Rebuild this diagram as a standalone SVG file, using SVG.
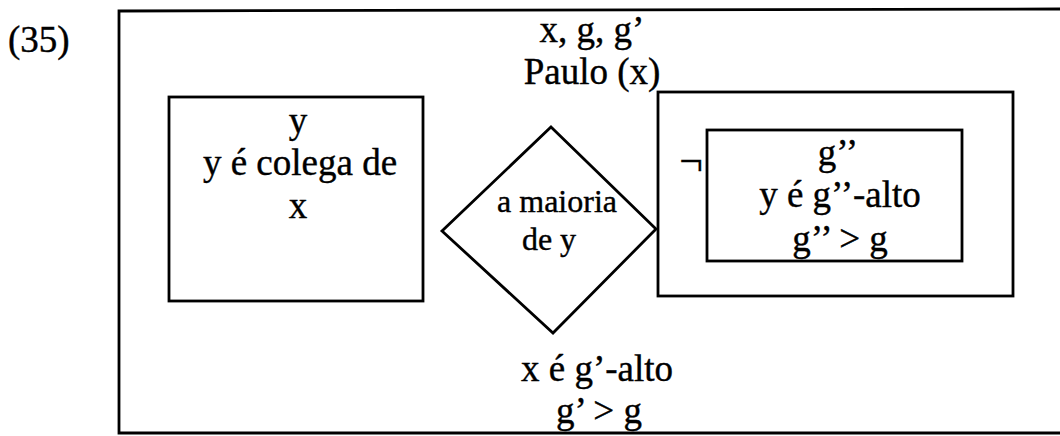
<svg xmlns="http://www.w3.org/2000/svg" width="1060" height="436" viewBox="0 0 1060 436">
<style>
text{font-family:"Liberation Serif","Times New Roman",serif;fill:#000;text-anchor:middle;stroke:#000;stroke-width:0.4}
.t{font-size:37px}
.s{font-size:32px}
.box{fill:none;stroke:#000;stroke-width:2.8}
</style>
<rect width="1060" height="436" fill="#fff"/>
<text class="t" x="8" y="52" style="text-anchor:start">(35)</text>
<g id="outer">
<path class="box" d="M1064,9 L119,11 L119,433 L1064,433"/>
<text class="t" x="592" y="42">x, g, g’</text>
<text class="t" x="592" y="84">Paulo (x)</text>
<text class="t" x="597" y="381">x é g’-alto</text>
<text class="t" x="599" y="423">g’ &gt; g</text>
</g>
<g id="left">
<rect class="box" x="169" y="97" width="254" height="204"/>
<text class="t" x="298" y="133">y</text>
<text class="t" x="300" y="175">y é colega de</text>
<text class="t" x="298" y="218">x</text>
</g>
<g id="diamond">
<polygon class="box" points="551,127 656,229 553,333 442,231"/>
<text class="s" x="557" y="212">a maioria</text>
<text class="s" x="549" y="250">de y</text>
</g>
<g id="neg">
<rect class="box" x="658" y="92" width="355" height="204"/>
<text x="691" y="175" style="font-size:42px">¬</text>
</g>
<g id="inner">
<rect class="box" x="707" y="130" width="255" height="131"/>
<text class="t" x="838" y="165">g’’</text>
<text class="t" x="840" y="207">y é g’’-alto</text>
<text class="t" x="840" y="251">g’’ &gt; g</text>
</g>
<g id="connectors"></g>
</svg>
